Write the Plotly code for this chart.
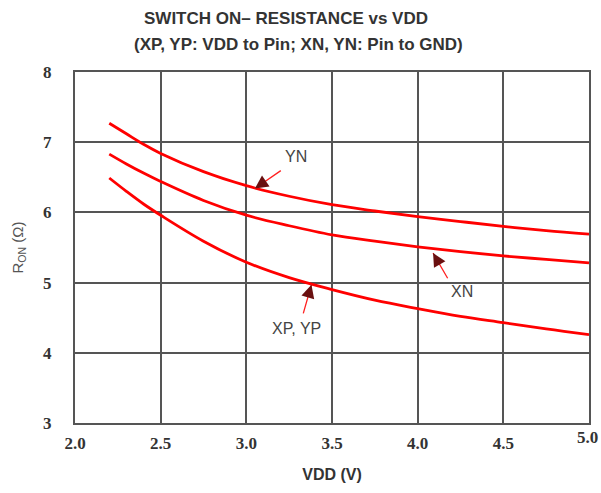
import plotly.graph_objects as go

vdd = [2.2, 2.3, 2.4, 2.5, 2.75, 3.0, 3.25, 3.5, 3.75, 4.0, 4.25, 4.5, 4.75, 5.0]
yn = [7.27, 7.12, 6.97, 6.84, 6.58, 6.38, 6.23, 6.11, 6.02, 5.94, 5.87, 5.80, 5.74, 5.69]
xn = [6.83, 6.69, 6.56, 6.44, 6.17, 5.96, 5.81, 5.68, 5.59, 5.51, 5.44, 5.38, 5.33, 5.28]
xp_yp = [6.49, 6.30, 6.12, 5.96, 5.59, 5.29, 5.07, 4.90, 4.75, 4.63, 4.52, 4.43, 4.34, 4.26]

x_ticks = [2.0, 2.5, 3.0, 3.5, 4.0, 4.5, 5.0]
x_tick_labels = ["2.0", "2.5", "3.0", "3.5", "4.0", "4.5", "5.0"]
y_ticks = [3, 4, 5, 6, 7, 8]

fig = go.Figure()
for name, ys in [("YN", yn), ("XN", xn), ("XP, YP", xp_yp)]:
    fig.add_trace(go.Scatter(x=vdd, y=ys, mode="lines", name=name,
                             line=dict(color="#ff0000", width=2.8, shape="spline", smoothing=1.0),
                             showlegend=False, hoverinfo="skip"))

label_font = dict(family="Liberation Sans, Arial, sans-serif", size=16, color="#444")
# (text, text x, text y, tail x, tail y, tip x, tip y)
labels = [
    ("YN", 3.29, 6.79, 3.21, 6.61, 3.05, 6.34),
    ("XN", 4.26, 4.87, 4.18, 5.04, 4.09, 5.42),
    ("XP, YP", 3.29, 4.35, 3.33, 4.54, 3.38, 4.97),
]
for text, tx, ty, ax, ay, hx, hy in labels:
    fig.add_annotation(x=tx, y=ty, xref="x", yref="y", text=text, showarrow=False, font=label_font)
    fig.add_annotation(x=hx, y=hy, ax=ax, ay=ay, xref="x", yref="y", axref="x", ayref="y",
                       text="", showarrow=True, arrowhead=0, arrowwidth=1.3, arrowcolor="#ff2020")
    # dark arrow head
    fig.add_annotation(x=hx, y=hy, ax=hx + (ax - hx) * 0.35, ay=hy + (ay - hy) * 0.35,
                       xref="x", yref="y", axref="x", ayref="y",
                       text="", showarrow=True, arrowhead=2, arrowsize=1.2, arrowwidth=2.2,
                       arrowcolor="#6a1010")

tick_font = dict(family="Times New Roman", size=17, color="#333", weight="bold")

# last x tick label drawn flush with the right edge so it is not clipped
fig.add_annotation(x=1.0, y=0, xref="paper", yref="paper", xanchor="right", yanchor="top",
                   xshift=11, yshift=-3, text=x_tick_labels[-1], showarrow=False, font=tick_font)

title_font = dict(family="Liberation Sans Narrow, Liberation Sans, Arial, sans-serif",
                  size=17, color="#333")
fig.add_annotation(x=286, y=18, text="<b>SWITCH ON\u2013 RESISTANCE vs VDD</b>",
                   showarrow=False, font=title_font)
fig.add_annotation(x=298, y=44, text="<b>(XP, YP: VDD to Pin; XN, YN: Pin to GND)</b>",
                   showarrow=False, font=title_font)

fig.update_layout(
    width=601, height=493,
    margin=dict(l=75, r=12, t=72, b=70),
    paper_bgcolor="white", plot_bgcolor="white",
    xaxis=dict(range=[2.0, 5.0], tickvals=x_ticks, ticktext=x_tick_labels[:-1] + [""],
               showgrid=True, gridcolor="#555", gridwidth=1.5,
               showline=True, linecolor="#555", linewidth=2, mirror=True,
               zeroline=False, ticks="", ticklabelstandoff=4, ticklabeloverflow="allow",
               automargin=False, tickfont=tick_font,
               title=dict(text="<b>VDD (V)</b>", standoff=16,
                          font=dict(family="Liberation Sans Narrow, Liberation Sans, Arial, sans-serif",
                                    size=16, color="#333"))),
    yaxis=dict(range=[3, 8], tickvals=y_ticks,
               showgrid=True, gridcolor="#555", gridwidth=1.5,
               showline=True, linecolor="#555", linewidth=2, mirror=True,
               zeroline=False, ticks="", ticklabelstandoff=18, ticklabeloverflow="allow",
               automargin=False, tickfont=tick_font,
               title=dict(text="R<sub>ON</sub> (\u03a9)", standoff=16,
                          font=dict(family="Liberation Sans, Arial, sans-serif", size=15, color="#555"))),
)

plot_w = 601 - 75 - 12
plot_h = 493 - 72 - 70
for ann in fig.layout.annotations[-2:]:
    ann.xref = "paper"
    ann.yref = "paper"
    ann.x = (ann.x - 75) / plot_w
    ann.y = (493 - 70 - ann.y) / plot_h
    ann.xanchor = "center"
    ann.yanchor = "middle"

fig.write_html("out.html", config={"displayModeBar": False},
               post_script="document.body.style.margin='0';document.body.style.overflow='hidden';")
